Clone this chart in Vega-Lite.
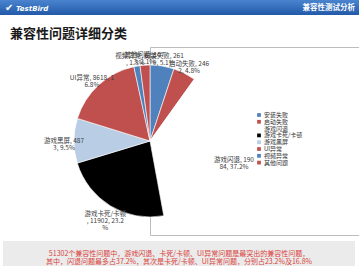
{
  "$schema": "https://vega.github.io/schema/vega-lite/v6.json",
  "padding": 0,
  "background": "#ffffff",
  "config": {
    "view": {"stroke": null},
    "font": "Noto Sans CJK SC"
  },
  "vconcat": [
    {
      "width": 359,
      "height": 15,
      "view": {"fill": {"gradient": "linear", "x1": 0, "y1": 0, "x2": 0, "y2": 1, "stops": [{"offset": 0, "color": "#4a84cf"}, {"offset": 1, "color": "#2259a8"}]}, "stroke": null},
      "title": {"text": "兼容性问题详细分类", "orient": "bottom", "anchor": "start", "dx": 10, "offset": 13, "fontSize": 13, "fontWeight": "bold", "color": "#1a1a1a", "font": "Noto Sans CJK SC"},
      "layer": [
        {
          "data": {"values": [{"t": "兼容性测试分析"}]},
          "mark": {"type": "text", "align": "right", "baseline": "middle", "dx": -4, "fontSize": 7.5, "fontWeight": "bold", "color": "#ffffff"},
          "encoding": {"text": {"field": "t"}, "x": {"value": "width"}}
        },
        {
          "data": {"values": [{"t": "TestBird"}]},
          "mark": {"type": "text", "align": "left", "baseline": "middle", "dx": 16, "dy": 1, "fontSize": 7, "fontStyle": "italic", "fontWeight": "bold", "font": "DejaVu Sans", "color": "#ffffff"},
          "encoding": {"text": {"field": "t"}, "x": {"value": 0}}
        },
        {
          "data": {"values": [{"t": "✔"}]},
          "mark": {"type": "text", "align": "left", "baseline": "middle", "dx": 5, "fontSize": 10, "font": "DejaVu Sans", "color": "#ffffff"},
          "encoding": {"text": {"field": "t"}, "x": {"value": 0}}
        }
      ]
    },
    {
      "hconcat": [
        {
          "width": 33,
          "height": 1,
          "data": {"values": []},
          "mark": "point"
        },
        {
          "width": 260,
          "height": 188,
          "view": {"stroke": "#bdbdbd", "strokeWidth": 1, "fill": "#ffffff"},
          "data": {"values": [
            {"rank": 1, "cat": "安装失败", "count": 2619, "label": "安装失败, 261\n9, 5.1%"},
            {"rank": 2, "cat": "启动失败", "count": 2462, "label": "启动失败, 246\n2, 4.8%"},
            {"rank": 3, "cat": "游戏闪退", "count": 19084, "label": "游戏闪退, 190\n84, 37.2%"},
            {"rank": 4, "cat": "游戏卡死/卡顿", "count": 11902, "label": "游戏卡死/卡顿\n, 11902, 23.2\n%"},
            {"rank": 5, "cat": "游戏黑屏", "count": 4873, "label": "游戏黑屏, 487\n3, 9.5%"},
            {"rank": 6, "cat": "UI异常", "count": 8618, "label": "UI异常, 8618, 1\n6.8%"},
            {"rank": 7, "cat": "视频异常", "count": 671, "label": "视频异常, 671\n, 1.3%"},
            {"rank": 8, "cat": "其他问题", "count": 1073, "label": "其他问题, 107\n3, 2.1%"}
          ]},
          "encoding": {
            "theta": {"field": "count", "type": "quantitative", "stack": true},
            "order": {"field": "rank", "type": "quantitative"},
            "detail": {"field": "cat", "type": "nominal"}
          },
          "layer": [
            {
              "mark": {"type": "arc", "outerRadius": 76, "x": {"expr": "width*0.412"}, "stroke": "#ffffff", "strokeWidth": 0.6},
              "encoding": {
                "color": {
                  "field": "cat", "type": "nominal",
                  "scale": {"domain": ["安装失败", "启动失败", "游戏闪退", "游戏卡死/卡顿", "游戏黑屏", "UI异常", "视频异常", "其他问题"],
                            "range": ["#4f81bd", "#c0504d", "#ffffff", "#000000", "#b9cde5", "#c0504d", "#4f81bd", "#c0504d"]},
                  "legend": {"orient": "none", "legendX": 256, "legendY": 112, "title": null, "symbolType": "square", "symbolSize": 14, "symbolStrokeWidth": 0, "labelFontSize": 6, "labelColor": "#333333", "rowPadding": 0.8, "labelOffset": 2, "padding": 0}
                }
              }
            },
            {
              "mark": {"type": "text", "radius": 86, "x": {"expr": "width*0.412"}, "fontSize": 6.5, "color": "#404040", "lineBreak": "\n", "lineHeight": 7, "align": "center", "baseline": "middle"},
              "encoding": {"text": {"field": "label"}}
            }
          ]
        }
      ],
      "spacing": 10
    },
    {
      "hconcat": [
        {
          "width": 1,
          "height": 1,
          "data": {"values": []},
          "mark": "point"
        },
        {
          "width": 352,
          "height": 25,
          "view": {"fill": "#ebebeb", "stroke": null},
          "data": {"values": [{"t": "51302个兼容性问题中，游戏闪退、卡死/卡顿、UI异常问题是最突出的兼容性问题，\n其中，闪退问题最多占37.2%，其次是卡死/卡顿、UI异常问题，分别占23.2%及16.8%"}]},
          "mark": {"type": "text", "fontSize": 7, "color": "#d9433c", "lineBreak": "\n", "lineHeight": 8.5, "align": "center", "baseline": "middle"},
          "encoding": {"text": {"field": "t"}}
        }
      ],
      "spacing": 2
    }
  ],
  "spacing": 5
}
